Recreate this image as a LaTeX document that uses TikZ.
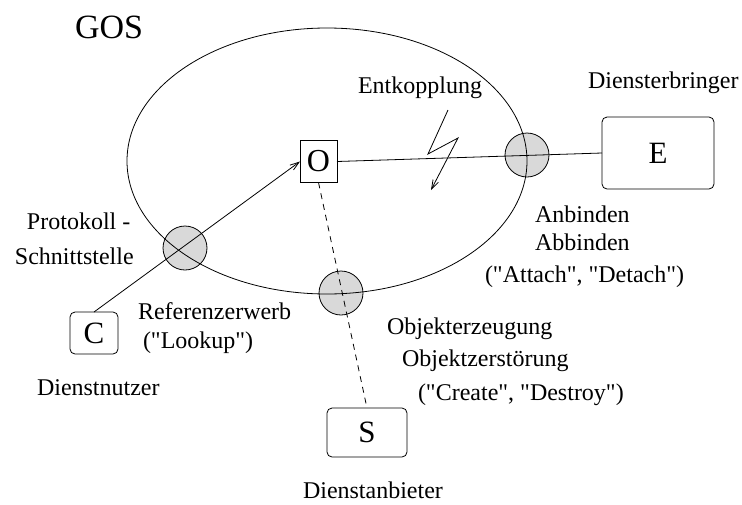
\documentclass[tikz,border=0pt]{standalone}
\usepackage{fontspec}
\setmainfont[Ligatures=TeXOff]{Liberation Serif}
\usetikzlibrary{arrows.meta}
\begin{document}
\begin{tikzpicture}[x=1pt,y=-1pt,
  line width=0.8pt,
  every node/.style={inner sep=0pt, outer sep=0pt},
  lbl/.style={anchor=base west, font=\fontsize{24}{28}\selectfont},
  port/.style={circle, draw, fill=black!15, minimum size=44pt},
  obox/.style={draw, rectangle, minimum width=37pt, minimum height=42pt, font=\fontsize{32}{36}\selectfont},
  rbox/.style={draw, rectangle, rounded corners=5pt, font=\fontsize{31}{36}\selectfont},
  arr/.style={-{Straight Barb[length=9pt,width=6pt]}},
  dsh/.style={dash pattern=on 6pt off 5pt}
]
\useasboundingbox (0,0) rectangle (742,504);
% ports (drawn first so lines show over them)
\node[port] (P1) at (185,248) {};
\node[port] (P2) at (341,293) {};
\node[port] (P3) at (527,155) {};
% GOS ellipse
\draw (327,161) ellipse [x radius=200pt, y radius=133pt];
% boxes
\node[obox] (O) at (318.5,161.5) {O};
\node[rbox, minimum width=48pt, minimum height=42pt] (C) at (94,333) {C};
\node[rbox, minimum width=112pt, minimum height=72pt] (E) at (658,153) {E};
\node[rbox, minimum width=80pt, minimum height=49pt] (S) at (367,432.5) {S};
% connectors
\draw[arr] (C.north) -- (O.west);
\draw (O.east) -- (E.west);
\draw[dsh] (O.south) -- (S.north);
% lightning
\coordinate (l1) at (448,110);
\coordinate (l2) at (428,154);
\coordinate (l3) at (458,138);
\coordinate (l4) at (431,190);
\draw[arr] (l1) -- (l2) -- (l3) -- (l4);
% texts
\node[anchor=base west, font=\fontsize{34}{38}\selectfont] (gos) at (75,38) {GOS};
\node[lbl] (ent) at (358,93) {Entkopplung};
\node[lbl] (deb) at (588,88) {Diensterbringer};
\node[lbl] (anb) at (535,222) {Anbinden};
\node[lbl] (abb) at (535,250) {Abbinden};
\node[lbl] (att) at (485,282) {("Attach", "Detach")};
\node[lbl] (pro) at (27,229) {Protokoll -};
\node[lbl] (sch) at (15,264) {Schnittstelle};
\node[lbl] (ref) at (138,319) {Referenzerwerb};
\node[lbl] (loo) at (143,348) {("Lookup")};
\node[lbl] (dnu) at (37,395) {Dienstnutzer};
\node[lbl] (oez) at (387,334) {Objekterzeugung};
\node[lbl] (ozs) at (402,366) {Objektzerstörung};
\node[lbl] (cre) at (418,400) {("Create", "Destroy")};
\node[lbl] (dab) at (303,498) {Dienstanbieter};
\end{tikzpicture}
\end{document}
